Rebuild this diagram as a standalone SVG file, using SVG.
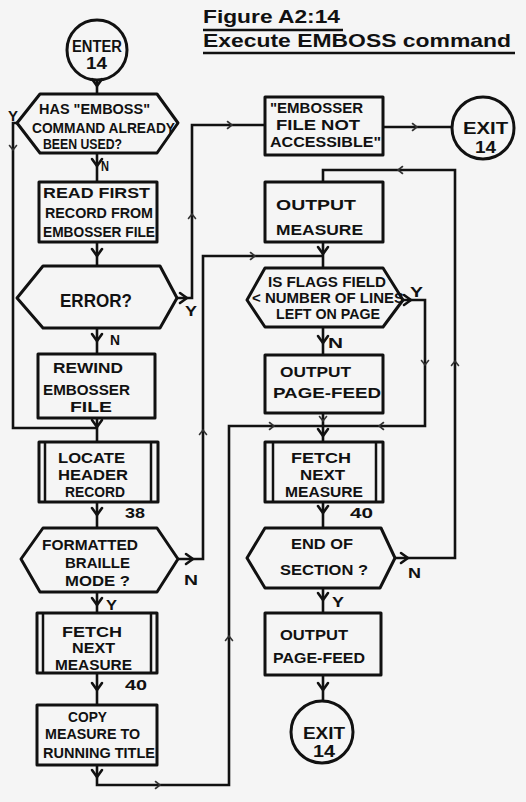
<svg xmlns="http://www.w3.org/2000/svg" width="526" height="802" viewBox="0 0 526 802">
<style>
.bg{fill:#f5f5f5}
.sh{fill:none;stroke:#111;stroke-width:3;stroke-linejoin:round}
.bar{stroke:#111;stroke-width:2.5}
.ln{fill:none;stroke:#111;stroke-width:2.6;stroke-linejoin:miter}
.ah{fill:none;stroke:#111;stroke-width:2.6;stroke-linecap:round;stroke-linejoin:round}
.tk{fill:none;stroke:#333;stroke-width:1.6;stroke-linecap:round}
text{font-family:"Liberation Sans",Arial,sans-serif;font-weight:bold;fill:#111;font-size:15px}
.ttl{font-size:19px;font-weight:bold}
.big{font-size:19px}
.cir{font-size:16px}
.sm{font-size:14px}
.lbl{font-size:14px}
</style>
<defs>
<path id="v" d="M-5,-7 L0,0 L5,-7"/>
<path id="vt" d="M-3.5,-4.5 L0,0 L3.5,-4.5"/>
</defs>
<rect class="bg" x="0" y="0" width="526" height="802"/>

<!-- heading -->
<g id="title">
<text class="ttl" x="203" y="23" textLength="137" lengthAdjust="spacingAndGlyphs">Figure A2:14</text>
<line class="ln" x1="203" y1="30" x2="343" y2="30" stroke-width="2"/>
<text class="ttl" x="203" y="47" textLength="308" lengthAdjust="spacingAndGlyphs">Execute EMBOSS command</text>
<line class="ln" x1="203" y1="53" x2="515" y2="53" stroke-width="2"/>
</g>

<!-- connectors -->
<g id="connectors">
<path class="ln" d="M97,80 V94"/>
<path class="ln" d="M97,153 V182"/>
<path class="ln" d="M97,242 V266"/>
<path class="ln" d="M97,328 V354"/>
<path class="ln" d="M97,418 V442"/>
<path class="ln" d="M17,123 H13 V428 H97"/>
<path class="ln" d="M97,502 V528"/>
<path class="ln" d="M97,592 V613"/>
<path class="ln" d="M97,673 V705"/>
<path class="ln" d="M97,765 V785 H229 V426 H323"/>
<path class="ln" d="M177,298 H192 V125 H265"/>
<path class="ln" d="M383,127 H452"/>
<path class="ln" d="M178,559 H203 V256 H323"/>
<path class="ln" d="M323,242 V268"/>
<path class="ln" d="M323,327 V355"/>
<path class="ln" d="M323,413 V442"/>
<path class="ln" d="M403,300 H425 V426 H323"/>
<path class="ln" d="M323,502 V528"/>
<path class="ln" d="M323,588 V613"/>
<path class="ln" d="M395,558 H455 V170 H323 V182"/>
<path class="ln" d="M323,675 V701"/>

<!-- arrowheads -->
<use href="#v" class="ah" transform="translate(97,86)"/>
<use href="#v" class="ah" transform="translate(97,166)"/>
<use href="#v" class="ah" transform="translate(97,256)"/>
<use href="#v" class="ah" transform="translate(97,341)"/>
<use href="#v" class="ah" transform="translate(97,427)"/>
<use href="#v" class="ah" transform="translate(97,515)"/>
<use href="#v" class="ah" transform="translate(97,605)"/>
<use href="#v" class="ah" transform="translate(97,690)"/>
<use href="#v" class="ah" transform="translate(97,777)"/>
<use href="#v" class="ah" transform="translate(187,298) rotate(-90)"/>
<use href="#v" class="ah" transform="translate(193,559) rotate(-90)"/>
<use href="#v" class="ah" transform="translate(323,254)"/>
<use href="#v" class="ah" transform="translate(323,343)"/>
<use href="#v" class="ah" transform="translate(323,436)"/>
<use href="#v" class="ah" transform="translate(323,513)"/>
<use href="#v" class="ah" transform="translate(323,600)"/>
<use href="#v" class="ah" transform="translate(323,690)"/>
<use href="#v" class="ah" transform="translate(411,300) rotate(-90)"/>
<use href="#v" class="ah" transform="translate(408,558) rotate(-90)"/>

<!-- flow ticks along long runs -->
<use href="#vt" class="tk" transform="translate(13,150)"/>
<use href="#vt" class="tk" transform="translate(192,214) rotate(180)"/>
<use href="#vt" class="tk" transform="translate(232,125) rotate(-90)"/>
<use href="#vt" class="tk" transform="translate(417,127) rotate(-90)"/>
<use href="#vt" class="tk" transform="translate(203,430) rotate(180)"/>
<use href="#vt" class="tk" transform="translate(255,256) rotate(-90)"/>
<use href="#vt" class="tk" transform="translate(229,636) rotate(180)"/>
<use href="#vt" class="tk" transform="translate(160,785) rotate(-90)"/>
<use href="#vt" class="tk" transform="translate(274,426) rotate(-90)"/>
<use href="#vt" class="tk" transform="translate(379,426) rotate(90)"/>
<use href="#vt" class="tk" transform="translate(425,365)"/>
<use href="#vt" class="tk" transform="translate(455,361) rotate(180)"/>
<use href="#vt" class="tk" transform="translate(398,170) rotate(90)"/>
<use href="#vt" class="tk" transform="translate(323,421)"/>

<!-- branch labels -->
<text class="lbl" x="8" y="121" textLength="10" lengthAdjust="spacingAndGlyphs">Y</text>
<text class="lbl" x="101" y="171" textLength="8" lengthAdjust="spacingAndGlyphs">N</text>
<text class="lbl" x="185" y="316" textLength="12" lengthAdjust="spacingAndGlyphs">Y</text>
<text class="lbl" x="110" y="345" textLength="10" lengthAdjust="spacingAndGlyphs">N</text>
<text class="lbl" x="184" y="585" textLength="14" lengthAdjust="spacingAndGlyphs">N</text>
<text class="lbl" x="106" y="610" textLength="11" lengthAdjust="spacingAndGlyphs">Y</text>
<text class="lbl" x="410" y="297" textLength="13" lengthAdjust="spacingAndGlyphs">Y</text>
<text class="lbl" x="328" y="348" textLength="15" lengthAdjust="spacingAndGlyphs">N</text>
<text class="lbl" x="408" y="578" textLength="13" lengthAdjust="spacingAndGlyphs">N</text>
<text class="lbl" x="332" y="607" textLength="12" lengthAdjust="spacingAndGlyphs">Y</text>
</g>

<!-- left column -->
<g id="enter">
<circle class="sh" cx="97" cy="50" r="30"/>
<text class="cir" x="72" y="52" textLength="50" lengthAdjust="spacingAndGlyphs">ENTER</text>
<text class="cir" x="86" y="69" textLength="21" lengthAdjust="spacingAndGlyphs">14</text>
</g>

<g id="used-before">
<polygon class="sh" points="17,123 40,94 157,94 178,123 157,153 40,153"/>
<text class="sm" x="39" y="114" textLength="111" lengthAdjust="spacingAndGlyphs">HAS "EMBOSS"</text>
<text class="sm" x="32" y="133" textLength="143" lengthAdjust="spacingAndGlyphs">COMMAND ALREADY</text>
<text class="sm" x="43" y="149" textLength="79" lengthAdjust="spacingAndGlyphs">BEEN USED?</text>
</g>

<g id="read-first">
<rect class="sh" x="39" y="182" width="118" height="60"/>
<text x="43" y="198" textLength="107" lengthAdjust="spacingAndGlyphs">READ FIRST</text>
<text x="45" y="218" textLength="108" lengthAdjust="spacingAndGlyphs">RECORD FROM</text>
<text x="43" y="237" textLength="112" lengthAdjust="spacingAndGlyphs">EMBOSSER FILE</text>
</g>

<g id="error">
<polygon class="sh" points="17,298 43,266 160,266 177,298 160,328 43,328"/>
<text class="big" x="60" y="307" textLength="72" lengthAdjust="spacingAndGlyphs">ERROR?</text>
</g>

<g id="rewind">
<rect class="sh" x="38" y="354" width="117" height="64"/>
<text x="53" y="373" textLength="70" lengthAdjust="spacingAndGlyphs">REWIND</text>
<text x="43" y="395" textLength="87" lengthAdjust="spacingAndGlyphs">EMBOSSER</text>
<text x="70" y="412" textLength="42" lengthAdjust="spacingAndGlyphs">FILE</text>
</g>

<g id="locate-header">
<rect class="sh" x="39" y="442" width="119" height="60"/>
<line class="bar" x1="45" y1="442" x2="45" y2="502"/>
<line class="bar" x1="151" y1="442" x2="151" y2="502"/>
<text x="58" y="463" textLength="67" lengthAdjust="spacingAndGlyphs">LOCATE</text>
<text x="58" y="480" textLength="70" lengthAdjust="spacingAndGlyphs">HEADER</text>
<text x="65" y="497" textLength="60" lengthAdjust="spacingAndGlyphs">RECORD</text>
<text x="125" y="518" textLength="20" lengthAdjust="spacingAndGlyphs">38</text>
</g>

<g id="braille-mode">
<polygon class="sh" points="21,559 43,528 157,528 178,559 157,592 40,592"/>
<text x="42" y="550" textLength="96" lengthAdjust="spacingAndGlyphs">FORMATTED</text>
<text x="65" y="568" textLength="65" lengthAdjust="spacingAndGlyphs">BRAILLE</text>
<text x="65" y="586" textLength="65" lengthAdjust="spacingAndGlyphs">MODE ?</text>
</g>

<g id="fetch-left">
<rect class="sh" x="37" y="613" width="120" height="60"/>
<line class="bar" x1="43" y1="613" x2="43" y2="673"/>
<line class="bar" x1="151" y1="613" x2="151" y2="673"/>
<text x="62" y="637" textLength="60" lengthAdjust="spacingAndGlyphs">FETCH</text>
<text x="72" y="653" textLength="43" lengthAdjust="spacingAndGlyphs">NEXT</text>
<text x="55" y="670" textLength="77" lengthAdjust="spacingAndGlyphs">MEASURE</text>
<text x="125" y="690" textLength="22" lengthAdjust="spacingAndGlyphs">40</text>
</g>

<g id="copy-title">
<rect class="sh" x="37" y="705" width="120" height="60"/>
<text x="68" y="722" textLength="39" lengthAdjust="spacingAndGlyphs">COPY</text>
<text x="45" y="739" textLength="95" lengthAdjust="spacingAndGlyphs">MEASURE TO</text>
<text x="43" y="758" textLength="112" lengthAdjust="spacingAndGlyphs">RUNNING TITLE</text>
</g>

<!-- right column -->
<g id="not-accessible">
<rect class="sh" x="265" y="97" width="118" height="58"/>
<text x="270" y="113" textLength="93" lengthAdjust="spacingAndGlyphs">"EMBOSSER</text>
<text x="276" y="130" textLength="84" lengthAdjust="spacingAndGlyphs">FILE NOT</text>
<text x="270" y="147" textLength="111" lengthAdjust="spacingAndGlyphs">ACCESSIBLE"</text>
</g>

<g id="exit-top">
<circle class="sh" cx="483" cy="128" r="31"/>
<text class="cir" x="463" y="134" textLength="45" lengthAdjust="spacingAndGlyphs">EXIT</text>
<text class="cir" x="475" y="153" textLength="21" lengthAdjust="spacingAndGlyphs">14</text>
</g>

<g id="output-measure">
<rect class="sh" x="265" y="182" width="118" height="60"/>
<text x="276" y="210" textLength="80" lengthAdjust="spacingAndGlyphs">OUTPUT</text>
<text x="276" y="235" textLength="87" lengthAdjust="spacingAndGlyphs">MEASURE</text>
</g>

<g id="flags-check">
<polygon class="sh" points="247,300 265,268 383,268 403,300 383,327 265,327"/>
<text class="sm" x="268" y="287" textLength="118" lengthAdjust="spacingAndGlyphs">IS FLAGS FIELD</text>
<text class="sm" x="252" y="303" textLength="152" lengthAdjust="spacingAndGlyphs">&lt; NUMBER OF LINES</text>
<text class="sm" x="276" y="319" textLength="104" lengthAdjust="spacingAndGlyphs">LEFT ON PAGE</text>
</g>

<g id="page-feed-1">
<rect class="sh" x="265" y="355" width="118" height="58"/>
<text x="280" y="377" textLength="71" lengthAdjust="spacingAndGlyphs">OUTPUT</text>
<text x="273" y="398" textLength="108" lengthAdjust="spacingAndGlyphs">PAGE-FEED</text>
</g>

<g id="fetch-right">
<rect class="sh" x="265" y="442" width="118" height="60"/>
<line class="bar" x1="273" y1="442" x2="273" y2="502"/>
<line class="bar" x1="376" y1="442" x2="376" y2="502"/>
<text class="sm" x="291" y="463" textLength="60" lengthAdjust="spacingAndGlyphs">FETCH</text>
<text class="sm" x="300" y="480" textLength="45" lengthAdjust="spacingAndGlyphs">NEXT</text>
<text class="sm" x="285" y="497" textLength="78" lengthAdjust="spacingAndGlyphs">MEASURE</text>
<text x="350" y="518" textLength="23" lengthAdjust="spacingAndGlyphs">40</text>
</g>

<g id="end-of-section">
<polygon class="sh" points="247,558 265,528 381,528 395,558 380,588 265,588"/>
<text x="291" y="549" textLength="62" lengthAdjust="spacingAndGlyphs">END OF</text>
<text x="280" y="575" textLength="88" lengthAdjust="spacingAndGlyphs">SECTION ?</text>
</g>

<g id="page-feed-2">
<rect class="sh" x="265" y="613" width="116" height="62"/>
<text x="280" y="640" textLength="68" lengthAdjust="spacingAndGlyphs">OUTPUT</text>
<text x="273" y="663" textLength="92" lengthAdjust="spacingAndGlyphs">PAGE-FEED</text>
</g>

<g id="exit-bottom">
<circle class="sh" cx="322" cy="732" r="31"/>
<text class="cir" x="303" y="739" textLength="42" lengthAdjust="spacingAndGlyphs">EXIT</text>
<text class="cir" x="313" y="757" textLength="22" lengthAdjust="spacingAndGlyphs">14</text>
</g>
</svg>
